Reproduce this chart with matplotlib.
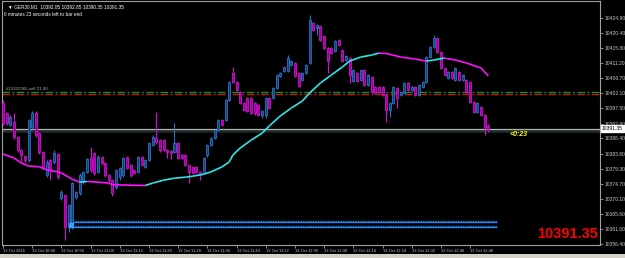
import matplotlib
matplotlib.use("Agg")
import matplotlib.pyplot as plt
from matplotlib.patches import Rectangle
from matplotlib.transforms import blended_transform_factory

# GER30 M1 bars, 13 Oct 10:40 .. 12:53
OPEN = [
    10399.1, 10396.1, 10392.5, 10393.4, 10388.8, 10384.9, 10383.1, 10381.9, 10391.9, 10396.1,
    10390.0, 10384.3, 10377.3, 10381.9, 10381.3, 10383.7, 10370.4, 10371.3, 10361.6, 10361.6,
    10370.7, 10371.9, 10375.2, 10378.3, 10382.5, 10384.0, 10378.3, 10382.8, 10381.0, 10377.3,
    10375.8, 10373.7, 10376.7, 10377.3, 10382.8, 10380.4, 10378.9, 10378.3, 10382.8, 10379.8,
    10381.9, 10386.4, 10388.5, 10387.9, 10387.9, 10384.9, 10384.6, 10384.3, 10387.0, 10383.4,
    10383.4, 10380.4, 10379.8, 10379.8, 10378.3, 10378.0, 10383.4, 10386.4, 10388.5, 10391.0,
    10394.0, 10394.0, 10400.0, 10408.2, 10405.5, 10402.4, 10399.1, 10400.6, 10400.6, 10399.1,
    10398.5, 10395.5, 10395.5, 10400.6, 10400.6, 10403.6, 10407.3, 10408.8, 10408.8, 10410.6,
    10411.2, 10408.2, 10406.1, 10408.2, 10411.2, 10423.3, 10421.8, 10422.4, 10419.4, 10415.7,
    10415.7, 10414.8, 10418.2, 10415.1, 10412.1, 10412.7, 10405.8, 10408.2, 10406.1, 10409.1,
    10404.6, 10407.0, 10404.0, 10404.0, 10404.0, 10401.5, 10397.0, 10399.1, 10403.6, 10401.5,
    10402.1, 10405.2, 10403.0, 10404.0, 10401.5, 10404.0, 10405.5, 10413.0, 10416.0, 10418.8,
    10414.5, 10409.7, 10406.7, 10408.5, 10406.1, 10408.5, 10406.1, 10406.1, 10405.5, 10399.4,
    10396.4, 10397.9, 10395.5, 10392.05,
]
HIGH = [
    10400.0, 10396.4, 10395.5, 10396.1, 10389.1, 10385.2, 10383.4, 10394.3, 10396.7, 10396.7,
    10390.4, 10384.6, 10381.9, 10382.2, 10384.9, 10384.0, 10372.8, 10371.6, 10368.6, 10375.2,
    10372.5, 10377.9, 10378.6, 10382.5, 10385.8, 10384.3, 10383.4, 10383.1, 10381.3, 10377.6,
    10376.1, 10379.2, 10379.8, 10382.8, 10383.1, 10380.7, 10379.2, 10383.1, 10383.1, 10382.2,
    10387.3, 10389.4, 10396.4, 10388.2, 10388.2, 10385.2, 10384.9, 10393.1, 10387.3, 10383.7,
    10383.7, 10380.7, 10380.1, 10380.1, 10378.6, 10382.8, 10386.7, 10388.8, 10391.3, 10394.3,
    10394.3, 10400.3, 10405.8, 10410.0, 10405.8, 10402.7, 10399.4, 10400.9, 10400.9, 10399.4,
    10398.8, 10397.0, 10400.9, 10400.9, 10404.0, 10407.9, 10408.5, 10410.3, 10413.6, 10412.1,
    10411.5, 10408.5, 10408.5, 10410.9, 10425.7, 10423.6, 10423.0, 10422.7, 10419.7, 10416.0,
    10416.0, 10418.2, 10418.5, 10415.4, 10413.6, 10413.0, 10409.4, 10408.5, 10409.4, 10409.4,
    10407.9, 10407.3, 10404.3, 10404.3, 10404.3, 10401.8, 10399.4, 10404.3, 10404.0, 10402.7,
    10405.5, 10405.5, 10404.3, 10404.3, 10404.9, 10405.8, 10413.3, 10416.4, 10419.7, 10419.1,
    10414.8, 10410.0, 10408.8, 10408.8, 10410.0, 10408.8, 10407.9, 10406.4, 10405.8, 10399.7,
    10399.4, 10398.2, 10395.8, 10392.85,
]
LOW = [
    10392.5, 10392.5, 10392.2, 10388.2, 10384.3, 10381.3, 10381.3, 10381.3, 10391.3, 10388.8,
    10383.7, 10379.2, 10376.7, 10375.8, 10380.7, 10376.1, 10369.8, 10357.7, 10360.1, 10361.0,
    10370.1, 10371.3, 10374.6, 10377.9, 10378.3, 10377.3, 10377.9, 10380.4, 10376.7, 10375.2,
    10371.0, 10373.1, 10375.8, 10376.7, 10379.2, 10376.7, 10377.6, 10377.9, 10380.1, 10379.5,
    10381.6, 10386.1, 10386.7, 10384.3, 10384.6, 10382.5, 10382.2, 10384.0, 10382.2, 10382.2,
    10380.1, 10374.9, 10377.6, 10377.9, 10375.8, 10377.6, 10382.8, 10386.1, 10388.2, 10390.7,
    10392.2, 10393.7, 10399.7, 10405.2, 10402.7, 10398.8, 10396.7, 10396.4, 10395.8, 10395.5,
    10395.2, 10394.6, 10394.6, 10397.3, 10400.3, 10403.3, 10407.0, 10408.5, 10408.5, 10410.3,
    10407.0, 10404.0, 10405.8, 10407.9, 10410.9, 10420.9, 10419.8, 10417.9, 10415.4, 10408.2,
    10413.9, 10414.5, 10416.4, 10411.5, 10411.8, 10405.2, 10405.5, 10405.5, 10405.8, 10404.3,
    10404.3, 10402.1, 10401.8, 10402.1, 10401.2, 10393.4, 10394.9, 10398.8, 10397.6, 10401.2,
    10401.8, 10402.7, 10402.7, 10401.2, 10401.2, 10403.7, 10405.2, 10412.7, 10415.7, 10414.2,
    10409.4, 10407.3, 10406.4, 10406.4, 10405.8, 10405.8, 10405.8, 10402.1, 10399.1, 10396.1,
    10396.1, 10395.2, 10389.4, 10390.35,
]
CLOSE = [
    10393.1, 10393.1, 10394.9, 10388.8, 10384.9, 10383.4, 10381.9, 10394.0, 10396.1, 10389.4,
    10384.3, 10379.8, 10381.3, 10378.9, 10384.0, 10376.7, 10372.2, 10361.6, 10368.3, 10374.9,
    10372.2, 10377.3, 10378.3, 10382.2, 10378.9, 10378.0, 10382.8, 10381.0, 10377.3, 10375.8,
    10371.9, 10378.9, 10379.5, 10382.5, 10379.5, 10377.3, 10378.0, 10382.8, 10380.4, 10381.9,
    10387.0, 10388.8, 10387.3, 10384.9, 10384.9, 10384.3, 10384.0, 10387.0, 10382.5, 10382.5,
    10380.4, 10378.3, 10378.0, 10378.3, 10377.3, 10382.5, 10386.4, 10388.5, 10391.0, 10394.0,
    10392.5, 10400.0, 10405.5, 10405.5, 10403.0, 10399.1, 10397.0, 10396.7, 10396.1, 10396.1,
    10395.5, 10396.7, 10400.6, 10397.6, 10403.6, 10407.6, 10408.2, 10410.0, 10412.7, 10411.8,
    10407.3, 10404.3, 10408.2, 10410.6, 10424.2, 10421.2, 10422.7, 10418.2, 10415.7, 10411.8,
    10414.2, 10417.9, 10416.7, 10411.8, 10413.3, 10407.6, 10409.1, 10405.8, 10409.1, 10404.6,
    10407.6, 10402.4, 10402.1, 10402.4, 10401.5, 10397.0, 10399.1, 10404.0, 10400.6, 10402.4,
    10405.2, 10403.0, 10404.0, 10401.5, 10404.6, 10405.5, 10413.0, 10416.0, 10418.8, 10414.5,
    10409.7, 10407.6, 10408.5, 10406.7, 10409.7, 10406.1, 10407.6, 10402.4, 10399.4, 10396.4,
    10399.1, 10395.5, 10391.9, 10391.35,
]

# moving average read at selected bars
MA_BAR = [0, 3, 5, 7, 10, 12, 15, 16, 18, 19, 21, 23, 26, 29, 30, 34, 39, 41, 44, 47,
          50, 52, 55, 57, 60, 62, 63, 65, 68, 71, 73, 76, 79, 82, 84, 87, 90, 93, 95, 98,
          101, 103, 105, 109, 113, 116, 118, 121, 124, 127, 131, 133]
MA_VAL = [10383.7, 10382.5, 10381.0, 10380.1, 10379.8, 10378.9, 10378.3, 10378.0, 10376.7, 10376.1,
          10375.2, 10375.4, 10375.2, 10374.9, 10374.4, 10374.3, 10374.2, 10374.9, 10375.8, 10376.4,
          10376.7, 10377.0, 10377.6, 10378.3, 10379.8, 10381.3, 10383.4, 10385.5, 10387.9, 10390.0,
          10392.2, 10395.2, 10397.6, 10399.7, 10402.1, 10405.2, 10407.6, 10410.0, 10411.8, 10413.0,
          10413.6, 10414.2, 10414.1, 10413.0, 10412.4, 10411.8, 10412.1, 10412.7, 10412.1, 10411.2,
          10409.7, 10407.3]

PRICE_TICKS = [10424.90, 10420.40, 10415.80, 10411.20, 10406.70, 10402.10, 10397.50, 10392.90,
               10388.40, 10383.80, 10379.30, 10374.70, 10370.10, 10365.60, 10361.00, 10356.40]
TIME_TICKS = [0, 8, 16, 24, 32, 40, 48, 56, 64, 72, 80, 88, 96, 104, 112, 120, 128]
TIME_LABELS = ["13 Oct 2016", "13 Oct 10:48", "13 Oct 10:56", "13 Oct 11:04", "13 Oct 11:12",
               "13 Oct 11:20", "13 Oct 11:28", "13 Oct 11:36", "13 Oct 11:44", "13 Oct 11:52",
               "13 Oct 12:00", "13 Oct 12:08", "13 Oct 12:16", "13 Oct 12:24", "13 Oct 12:32",
               "13 Oct 12:40", "13 Oct 12:48"]

BID = 10391.35
ORDER_LEVEL = 10402.35
STOP_LEVEL = 10401.75
WAVE_LEVELS = [10363.05, 10361.5]
WAVE_START = 18.3

BULL_EDGE, BULL_FILL = "#2a72c8", "#143f72"
BEAR_EDGE, BEAR_FILL = "#d010d0", "#9a009a"
GREY = "#c8c8c8"

plt.rcParams["font.family"] = ["Liberation Sans", "DejaVu Sans"]

fig = plt.figure(figsize=(6.25, 2.58), dpi=100, facecolor="black")
ax = fig.add_axes([2 / 625, 13 / 258, 598 / 625, 244 / 258], facecolor="black")

# candles
x = list(range(len(OPEN)))
up = [c >= o for o, c in zip(OPEN, CLOSE)]
edge = [BULL_EDGE if u else BEAR_EDGE for u in up]
fill = [BULL_FILL if u else BEAR_FILL for u in up]
ax.vlines(x, LOW, HIGH, colors=edge, linewidth=0.8, zorder=3)
heights = [max(abs(c - o), 0.2) for o, c in zip(OPEN, CLOSE)]
bottoms = [min(o, c) for o, c in zip(OPEN, CLOSE)]
ax.bar(x, heights, bottom=bottoms, width=0.55, color=fill, edgecolor=edge,
       linewidth=0.6, zorder=4)

# moving average, cyan while rising, magenta while falling
for k in range(len(MA_BAR) - 1):
    col = "#30e6e6" if MA_VAL[k + 1] > MA_VAL[k] else "#ff10ff"
    ax.plot(MA_BAR[k:k + 2], MA_VAL[k:k + 2], color=col, linewidth=1.2,
            solid_capstyle="butt", zorder=5)

# order / stop lines
ax.axhline(ORDER_LEVEL, color="#14a014", linewidth=0.9, dashes=(6, 2, 1.5, 2), zorder=2)
ax.axhline(STOP_LEVEL, color="#e01010", linewidth=0.9, dashes=(6, 2, 1.5, 2), zorder=2)
ax.text(0.007, ORDER_LEVEL + 0.5, "#13322365 sell 21.00", color="#b0b0b0", fontsize=3.2,
        transform=blended_transform_factory(ax.transAxes, ax.transData), va="bottom")

# bid line
ax.axhline(BID - 0.7, color="#1e2a2a", linewidth=2.6, zorder=1)
ax.axhline(BID, color="#b4b4b4", linewidth=0.9, zorder=2)

# blue wave levels
end = len(OPEN) + 1.3
for lv in WAVE_LEVELS:
    ax.hlines(lv, WAVE_START, end, color="#1e8cff", linewidth=0.9, zorder=3)
    ax.hlines(lv + 0.35, WAVE_START, end, color="#1e8cff", linewidth=0.9,
              linestyles=(0, (1, 1)), zorder=3)
ax.plot(WAVE_START + 0.3, sum(WAVE_LEVELS) / 2, "s", color="#3aa0ff", markersize=3, zorder=6)

ax.set_xlim(-0.27, 163.6)
ax.set_ylim(10356.2, 10429.95)

# axes styling
for s in ax.spines.values():
    s.set_color("#a0a0a0")
    s.set_linewidth(0.8)
ax.yaxis.tick_right()
ax.set_yticks(PRICE_TICKS)
ax.set_yticklabels([f"{v:.2f}" for v in PRICE_TICKS])
ax.set_xticks(TIME_TICKS)
ax.set_xticklabels(TIME_LABELS, ha="left")
ax.tick_params(axis="both", colors="#a0a0a0", labelcolor=GREY, labelsize=3.6,
               length=2, width=0.6, pad=1)
ax.tick_params(axis="x", labelsize=2.9)

# bid price box on the price scale
ax.annotate(f"{BID:.2f}", xy=(1.003, BID), xycoords=("axes fraction", "data"),
            fontsize=3.6, color="black", va="center", ha="left",
            bbox=dict(boxstyle="square,pad=0.25", fc="white", ec="white"), annotation_clip=False)

# header texts
ax.text(0.01, 0.985, "\u25bc GER30,M1  10392.05 10392.85 10390.35 10391.35",
        transform=ax.transAxes, color="white", fontsize=3.4, va="top", ha="left")
ax.text(0.003, 0.955, "0 minutes 23 seconds left to bar end",
        transform=ax.transAxes, color="white", fontsize=3.4, va="top", ha="left")
ax.text(0.848, BID - 0.8, "<0:23", color="#ffff00", fontsize=5, fontweight="bold",
        style="italic", va="top", ha="left",
        transform=blended_transform_factory(ax.transAxes, ax.transData))
ax.text(0.997, 0.015, f"{BID:.2f}", transform=ax.transAxes, color="#ff0000",
        fontsize=10.5, fontweight="bold", ha="right", va="bottom")

# tab strip at the bottom
fig.patches.append(Rectangle((0, 0), 1, 4 / 258, transform=fig.transFigure,
                             facecolor="#d4d0c8", edgecolor="none"))

fig.savefig("out.png", dpi=100, facecolor="black")
